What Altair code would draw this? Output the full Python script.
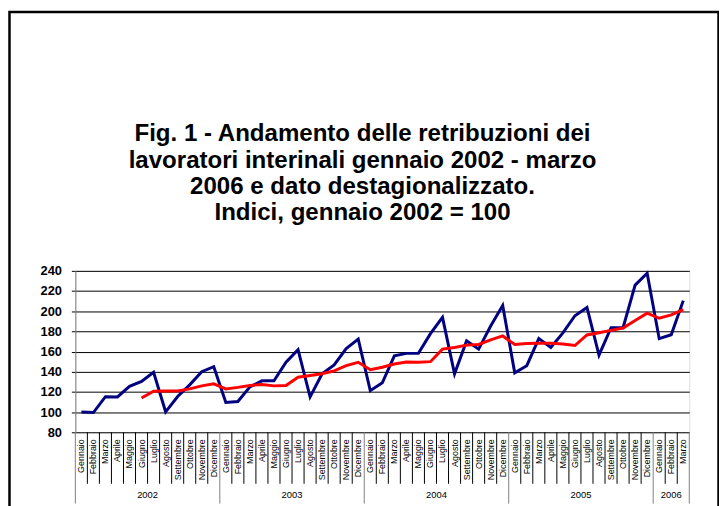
import altair as alt
import pandas as pd

month_names = ["Gennaio", "Febbraio", "Marzo", "Aprile", "Maggio", "Giugno",
               "Luglio", "Agosto", "Settembre", "Ottobre", "Novembre", "Dicembre"]
years = [2002, 2003, 2004, 2005, 2006]
months_per_year = [12, 12, 12, 12, 3]

# Retribuzioni (indice, gennaio 2002 = 100)
blue_values = [
    100, 99.5, 115.3, 115, 125.5, 130.4, 139.5, 100.3, 115.5, 127, 140, 145,
    109.5, 110.5, 125, 131, 131, 149.4, 161.8, 115, 138, 146.7, 163, 172.3,
    121.2, 129, 155.8, 158.2, 158.2, 177.8, 193.9, 137.9, 170.6, 162.4, 185.4, 205.6,
    138.9, 146, 172.9, 164, 178.5, 195.5, 203.7, 156.4, 183.6, 183.6, 225.9, 237.7,
    172.8, 176.7, 210.5,
]
# Dato destagionalizzato
red_values = [
    None, None, None, None, None, 114, 120.6, 121, 121, 123, 126, 128,
    123, 124.5, 126.4, 127.4, 126, 126.4, 134.6, 136.3, 138, 140.8, 146, 149.4,
    142, 144.4, 147.7, 149.7, 149.4, 150, 162.4, 164, 166.4, 167, 171.6, 175.5,
    167, 168, 168.3, 168.3, 167.5, 166, 176.5, 178.7, 181, 183.3, 190.8, 198,
    193, 196.4, 201.6,
]
title_lines = [
    "Fig. 1 - Andamento delle retribuzioni dei",
    "lavoratori interinali gennaio 2002 - marzo",
    "2006 e dato destagionalizzato.",
    "Indici, gennaio 2002 = 100",
]
y_ticks = [80, 100, 120, 140, 160, 180, 200, 220, 240]

rows = []
i = 0
for y, n in zip(years, months_per_year):
    for m in range(n):
        rows.append({"idx": i, "pos": i + 0.5, "month": month_names[m], "year": str(y),
                     "blue": blue_values[i], "red": red_values[i]})
        i += 1
df = pd.DataFrame(rows)
N = len(df)

# boundaries between categories
bounds = []
k = 0
year_bounds = [0]
for n in months_per_year:
    k += n
    year_bounds.append(k)
for b in range(N + 1):
    bounds.append({"b": b, "kind": "year" if b in year_bounds else "month"})
bdf = pd.DataFrame(bounds)

ycent = pd.DataFrame({"year": [str(y) for y in years],
                      "center": [(year_bounds[j] + year_bounds[j + 1]) / 2 for j in range(len(years))]})

W, H = 620, 163
FONT = "Arial, Liberation Sans, sans-serif"

xscale = alt.Scale(domain=[0, N], nice=False, zero=False)
yscale = alt.Scale(domain=[80, 240], nice=False, zero=False)


def yaxis():
    return alt.Axis(values=y_ticks, grid=True, gridColor="#000000", gridWidth=1,
                    gridOpacity=1, domain=True, domainColor="#808080", domainWidth=1,
                    ticks=True, tickColor="#000000", tickSize=4, tickWidth=1,
                    labelFont=FONT, labelFontSize=13, labelFontWeight="bold",
                    labelColor="#000000", labelPadding=10,
                    labelOverlap=False, labelFlush=False, title=None)


base = alt.Chart(df)

blue = base.mark_line(color="#000080", strokeWidth=3).encode(
    x=alt.X("pos:Q", scale=xscale, axis=None),
    y=alt.Y("blue:Q", scale=yscale, axis=yaxis(), title=None),
)
red = base.transform_filter("isValid(datum.red)").mark_line(color="#FF0000", strokeWidth=3).encode(
    x=alt.X("pos:Q", scale=xscale, axis=None),
    y=alt.Y("red:Q", scale=yscale, axis=yaxis(), title=None),
)

month_sep = alt.Chart(bdf).transform_filter("datum.kind == 'month'").mark_rule(
    color="#000000", strokeWidth=1).encode(
    x=alt.X("b:Q", scale=xscale, axis=None),
    y=alt.value(H), y2=alt.value(H + 52),
)
year_sep = alt.Chart(bdf).transform_filter("datum.kind == 'year'").mark_rule(
    color="#808080", strokeWidth=1).encode(
    x=alt.X("b:Q", scale=xscale, axis=None),
    y=alt.value(H), y2=alt.value(H + 72),
)

month_labels = base.mark_text(angle=270, align="right", baseline="middle",
                              font=FONT, fontSize=9, color="#000000").encode(
    x=alt.X("pos:Q", scale=xscale, axis=None),
    y=alt.value(H + 7),
    text="month:N",
)
year_labels = alt.Chart(ycent).mark_text(align="center", baseline="middle",
                                         font=FONT, fontSize=9.5, color="#000000").encode(
    x=alt.X("center:Q", scale=xscale, axis=None),
    y=alt.value(H + 63),
    text="year:N",
)

tdf = pd.DataFrame({"line": title_lines, "ty": [-131, -104, -77.5, -51]})
title = alt.Chart(tdf).mark_text(align="center", baseline="alphabetic", font=FONT,
                                 fontSize=24.3, fontWeight="bold", color="#000000").encode(
    x=alt.value(290),
    y=alt.Y("ty:Q", scale=None),
    text="line:N",
)

border = alt.Chart(pd.DataFrame({"a": [0]})).mark_rect(
    fill=None, fillOpacity=0, stroke="#000000", strokeWidth=2.5).encode(
    x=alt.value(-66.5), x2=alt.value(649.5),
    y=alt.value(-261.5), y2=alt.value(H + 120),
)

chart = alt.layer(
    month_sep, year_sep, blue, red, month_labels, year_labels, title, border
).properties(
    width=W, height=H,
    autosize=alt.AutoSizeParams(type="none"),
    padding={"left": 68, "top": 263, "right": 30, "bottom": 72},
).configure_view(strokeWidth=0, strokeOpacity=0).configure(background="#ffffff")

chart.save("out.html", embed_options={"renderer": "svg", "actions": False})
